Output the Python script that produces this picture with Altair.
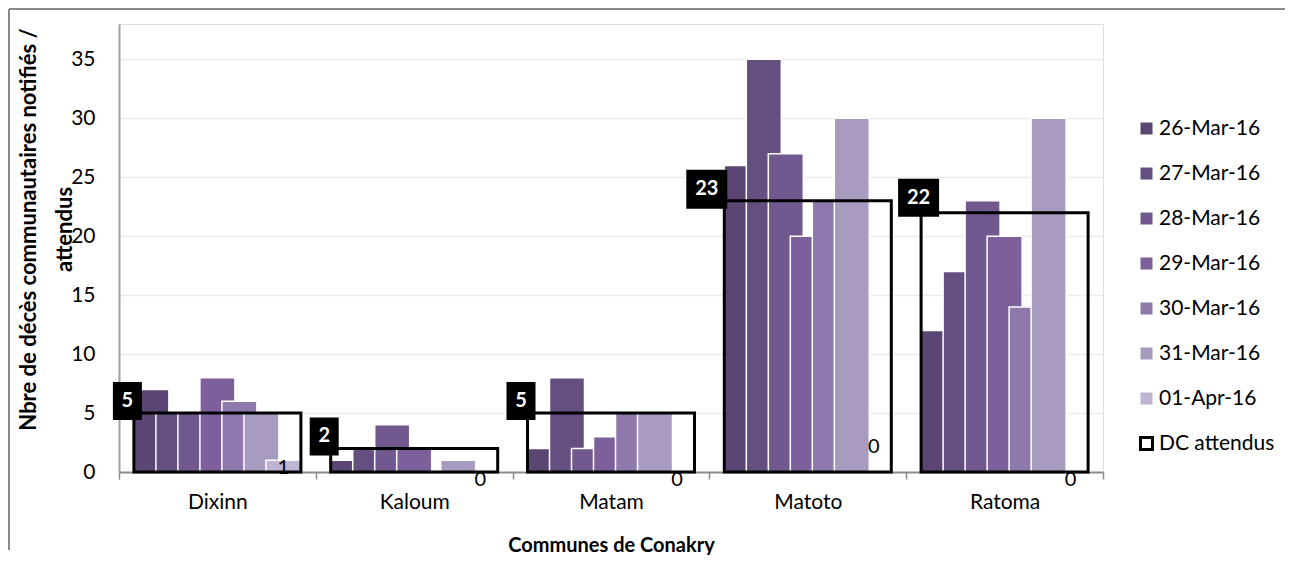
import altair as alt
import pandas as pd

communes = ["Dixinn", "Kaloum", "Matam", "Matoto", "Ratoma"]
dates = ["26-Mar-16", "27-Mar-16", "28-Mar-16", "29-Mar-16", "30-Mar-16", "31-Mar-16", "01-Apr-16"]
v_26mar = [7, 1, 2, 26, 12]
v_27mar = [5, 2, 8, 35, 17]
v_28mar = [5, 4, 2, 27, 23]
v_29mar = [8, 2, 3, 20, 20]
v_30mar = [6, 0, 5, 23, 14]
v_31mar = [5, 1, 5, 30, 30]
v_01apr = [1, 0, 0, 0, 0]
dc_attendus = [5, 2, 5, 23, 22]
dc_label = "DC attendus"
y_ticks = [0, 5, 10, 15, 20, 25, 30, 35]
colors = ["#5b4673", "#654f80", "#71588e", "#7d5f9b", "#8e78ac", "#a99abf", "#bfb5d3"]

series = [v_26mar, v_27mar, v_28mar, v_29mar, v_30mar, v_31mar, v_01apr]
rows = []
for ci, c in enumerate(communes):
    for d, s in zip(dates, series):
        rows.append({"commune": c, "date": d, "value": s[ci]})
bars_df = pd.DataFrame(rows)
dc_df = pd.DataFrame({"commune": communes, "value": dc_attendus, "serie": [dc_label] * len(communes)})
last_df = bars_df[bars_df["date"] == dates[-1]].reset_index(drop=True)
frame_df = pd.DataFrame({"k": [0]})

FONT = "Lato"
NBSP = "\u00a0"
GROUP = 0.8486  # fraction of the category step covered by a group
BP_LEFT = (1 - GROUP) / 2

x_scale = alt.Scale(domain=communes, paddingInner=0, paddingOuter=0)
xo_scale = alt.Scale(domain=dates, paddingInner=0, paddingOuter=0.973)
y_scale = alt.Scale(domain=[0, 38], nice=False, zero=True)

x_axis = alt.Axis(
    labelAngle=0, labelFontSize=21, labelFont=FONT, labelColor="#000000",
    labelPadding=12, tickBand="extent", tickSize=7, tickColor="#8c8c8c", tickWidth=1.5,
    domainColor="#8c8c8c", domainWidth=2, grid=False,
    titleFontSize=20, titleFont=FONT, titleFontWeight="bold", titleColor="#000000",
    titleY=73, titleBaseline="middle",
)
y_axis = alt.Axis(
    values=y_ticks, labelFontSize=21, labelFont=FONT, labelColor="#000000",
    labelPadding=24, tickSize=0, domainColor="#a0a0a0", domainWidth=2,
    grid=True, gridColor="#ececec", gridWidth=1.5,
    titleFontSize=22, titleFont=FONT, titleFontWeight="bold", titleColor="#000000",
    titleAngle=270, titleX=-91, titleY=205, titleAlign="center", titleBaseline="middle",
    titleLineHeight=36,
)
x_title = "Communes de Conakry"
y_title = ["Nbre de décès communautaires notifiés /", NBSP * 5 + "attendus"]


def X(bp=None):
    if bp is None:
        return alt.X("commune:N", scale=x_scale, sort=communes, axis=x_axis, title=x_title)
    return alt.X("commune:N", scale=x_scale, sort=communes, axis=x_axis, title=x_title, bandPosition=bp)


Y = alt.Y("value:Q", scale=y_scale, axis=y_axis, title=y_title)
XO = alt.XOffset("date:N", scale=xo_scale, sort=dates)

bars = alt.Chart(bars_df).mark_bar(
    width=35, stroke="white", strokeWidth=1.5
).encode(
    x=X(), xOffset=XO, y=Y,
    color=alt.Color(
        "date:N", scale=alt.Scale(domain=dates, range=colors), sort=dates,
        legend=alt.Legend(
            title=None, orient="none", legendX=1017, legendY=94, symbolType="square",
            symbolSize=144, symbolStrokeWidth=0, labelFontSize=21, labelFont=FONT,
            labelColor="#000000", rowPadding=23, labelOffset=2,
        ),
    ),
)

dc_box = alt.Chart(dc_df).mark_bar(
    filled=False, strokeWidth=3, width=alt.RelativeBandSize(GROUP)
).encode(
    x=X(), y=Y,
    stroke=alt.Stroke(
        "serie:N", scale=alt.Scale(domain=[dc_label], range=["#000000"]),
        legend=alt.Legend(
            title=None, orient="none", legendX=1017, legendY=409, symbolType="square",
            symbolSize=144, symbolStrokeWidth=3, symbolFillColor="white",
            labelFontSize=21, labelFont=FONT, labelColor="#000000", labelOffset=2,
        ),
    ),
)


def dc_tag(filter_expr, path, dx, dy):
    base = alt.Chart(dc_df).transform_filter(filter_expr)
    box = base.mark_point(
        shape=path, size=1444, filled=True, fill="#000000", opacity=1, strokeWidth=0
    ).encode(x=X(BP_LEFT), y=Y)
    txt = base.mark_text(
        color="white", fontWeight="bold", fontSize=20, font=FONT, dx=dx, dy=dy,
        align="center", baseline="middle",
    ).encode(x=X(BP_LEFT), y=Y, text="value:Q")
    return [box, txt]


tags = []
tags += dc_tag("datum.value < 10", "M-1.105,-1.632H0.421V0.368H-1.105Z", -6.5, -12)
tags += dc_tag("datum.commune == 'Matoto'", "M-2,-1.632H0.158V0.421H-2Z", -17.5, -11.5)
tags += dc_tag("datum.commune == 'Ratoma'", "M-1.211,-1.789H0.947V0.211H-1.211Z", -2.5, -15)

apr_labels = alt.Chart(last_df).transform_filter("datum.commune != 'Matoto'").mark_text(
    baseline="top", dy=-2, fontSize=20, font=FONT, color="#000000"
).encode(x=X(), xOffset=XO, y=Y, text="value:Q")
apr_label_matoto = alt.Chart(last_df).transform_filter("datum.commune == 'Matoto'").mark_text(
    baseline="top", dy=-35, fontSize=20, font=FONT, color="#000000"
).encode(x=X(), xOffset=XO, y=Y, text="value:Q")

frame_left = alt.Chart(frame_df).mark_rule(color="#8a8a8a", strokeWidth=2).encode(
    x=alt.value(-110), y=alt.value(-15), y2=alt.value(526)
)
frame_top = alt.Chart(frame_df).mark_rule(color="#8a8a8a", strokeWidth=2).encode(
    x=alt.value(-110), x2=alt.value(1166), y=alt.value(-15)
)

chart = alt.layer(
    frame_left, frame_top, bars, dc_box, *tags, apr_labels, apr_label_matoto
).properties(
    width=984, height=448, padding={"left": 0, "top": 0, "right": 0, "bottom": 0}
).configure_view(strokeWidth=0).configure(font=FONT)

chart.save("out.html", embed_options={"renderer": "svg", "actions": False})
